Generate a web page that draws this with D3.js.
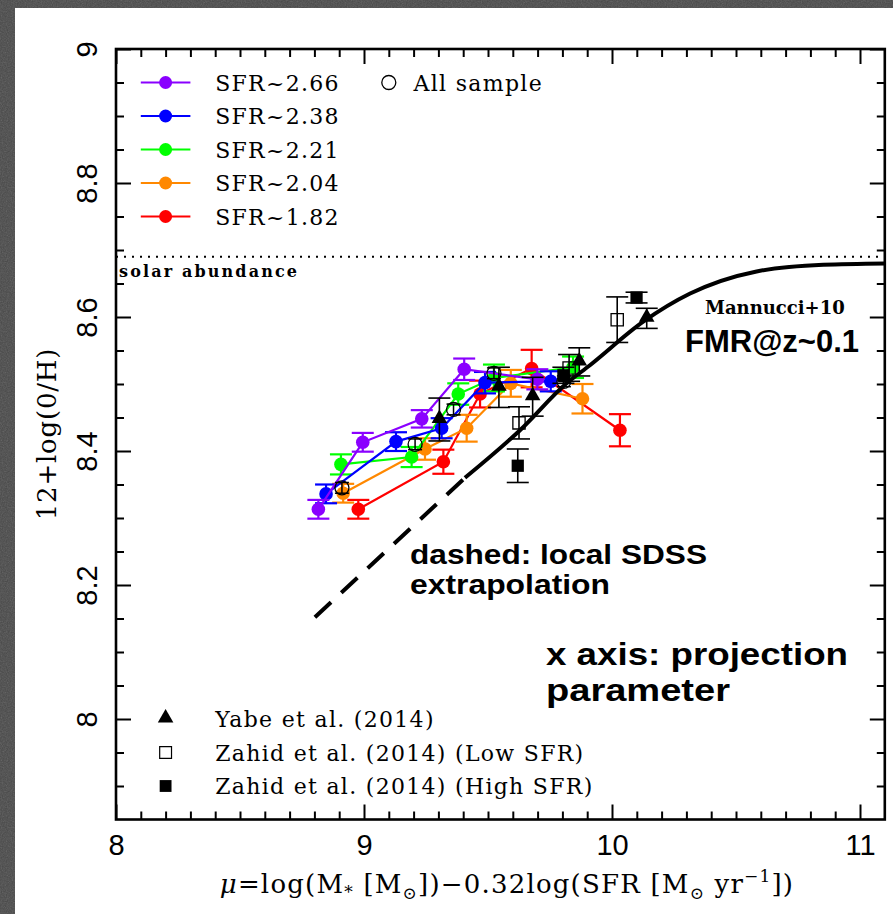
<!DOCTYPE html>
<html>
  <head>
    <meta charset="UTF-8" />
    <script src="https://d3js.org/d3.v7.min.js"></script>
    <style>
      body { margin: 0; background: #474747; }
    </style>
  </head>
  <body>
    <div id="my_dataviz"></div>

    <script>
      // ---- data ----
      const sfrLabels = ["SFR~2.66", "SFR~2.38", "SFR~2.21", "SFR~2.04", "SFR~1.82"];
      const sfrColors = ["#8a00ff", "#0000ff", "#00ff00", "#ff8800", "#ff0000"];

      const mu266 = [8.816, 8.995, 9.233, 9.404, 9.699];
      const oh266 = [8.313, 8.413, 8.448, 8.522, 8.507];
      const err266 = [0.014, 0.014, 0.013, 0.016, 0.015];

      const mu238 = [8.847, 9.129, 9.313, 9.488, 9.753];
      const oh238 = [8.336, 8.414, 8.434, 8.502, 8.504];
      const err238 = [0.014, 0.014, 0.015, 0.016, 0.015];

      const mu221 = [8.907, 9.192, 9.38, 9.524, 9.843];
      const oh221 = [8.38, 8.391, 8.485, 8.509, 8.525];
      const err221 = [0.015, 0.015, 0.016, 0.02, 0.016];

      const mu204 = [8.916, 9.246, 9.414, 9.592, 9.881];
      const oh204 = [8.337, 8.403, 8.434, 8.501, 8.478];
      const err204 = [0.014, 0.016, 0.02, 0.02, 0.022];

      const mu182 = [8.977, 9.32, 9.468, 9.676, 10.032];
      const oh182 = [8.313, 8.384, 8.485, 8.523, 8.431];
      const err182 = [0.014, 0.018, 0.02, 0.028, 0.024];

      const allMu = [8.911, 9.206, 9.361, 9.524, 9.806];
      const allOh = [8.345, 8.41, 8.462, 8.516, 8.504];
      const allErr = [0.008, 0.008, 0.008, 0.008, 0.008];

      const yabeMu = [9.304, 9.544, 9.68, 9.868, 10.14];
      const yabeOh = [8.447, 8.495, 8.481, 8.533, 8.598];
      const yabeErr = [0.032, 0.03, 0.029, 0.021, 0.015];

      const zLowMu = [9.625, 9.827, 10.021];
      const zLowOh = [8.442, 8.524, 8.596];
      const zLowErr = [0.024, 0.02, 0.034];

      const zHighMu = [9.62, 9.804, 10.099];
      const zHighOh = [8.378, 8.513, 8.629];
      const zHighErr = [0.025, 0.012, 0.008];

      // FMR curve (Mannucci+10), dashed extrapolation then solid
      const fmrDashMu = [8.802, 9.407];
      const fmrDashOh = [8.152, 8.36];
      const fmrMu = [9.407, 9.629, 9.817, 9.911, 10.126, 10.315, 10.583, 10.852, 11.105];
      const fmrOh = [8.36, 8.431, 8.501, 8.528, 8.593, 8.635, 8.668, 8.678, 8.68];

      const solarOh = 8.69;

      const xTicks = [8, 9, 10, 11];
      const yTicks = [8, 8.2, 8.4, 8.6, 8.8, 9];
      const yTickLabels = ["8", "8.2", "8.4", "8.6", "8.8", "9"];

      const refLabels = ["Yabe et al. (2014)", "Zahid et al. (2014) (Low SFR)", "Zahid et al. (2014) (High SFR)"];

      // ---- layout ----
      var width = 893, height = 914;

      var svg = d3
        .select("#my_dataviz")
        .append("svg")
        .attr("width", width)
        .attr("height", height);

      var defs = svg.append("defs");
      var noise = defs.append("filter").attr("id", "noise");
      noise.append("feTurbulence")
        .attr("type", "fractalNoise")
        .attr("baseFrequency", 0.8)
        .attr("numOctaves", 2)
        .attr("seed", 4);
      noise.append("feColorMatrix").attr("type", "saturate").attr("values", 0);

      svg.append("rect").attr("width", width).attr("height", height).attr("fill", "#474747");
      svg.append("rect").attr("width", width).attr("height", height)
        .attr("filter", "url(#noise)").attr("opacity", 0.25);
      // white page
      svg.append("rect").attr("x", 15).attr("y", 8).attr("width", width - 15).attr("height", height - 8).attr("fill", "#fff");

      var x = d3.scaleLinear().domain([8, 11.1]).range([116, 884.8]);
      var y = d3.scaleLinear().domain([7.85, 9]).range([819.5, 49]);

      defs.append("clipPath").attr("id", "plotclip")
        .append("rect")
        .attr("x", x(8)).attr("y", y(9))
        .attr("width", x(11.1) - x(8)).attr("height", y(7.85) - y(9));

      // ---- axes (ticks pointing inward) ----
      var minorX = d3.range(81, 111).map(d => d / 10).filter(d => d % 1 !== 0);
      var minorY = d3.range(158, 180).map(d => d / 20).filter(d => !yTicks.includes(d));

      function styleAxis(g) {
        g.select(".domain").remove();
        g.selectAll("line").attr("stroke", "#000").attr("stroke-width", 2);
      }

      svg.append("g").attr("transform", "translate(0," + y(7.85) + ")")
        .call(d3.axisBottom(x).tickValues(minorX).tickSize(-8).tickFormat(""))
        .call(styleAxis);
      var bottom = svg.append("g").attr("transform", "translate(0," + y(7.85) + ")")
        .call(d3.axisBottom(x).tickValues(xTicks).tickSize(-15).tickPadding(15).tickFormat(d3.format("d")))
        .call(styleAxis);
      bottom.selectAll("text")
        .attr("font-family", "Liberation Sans, Arial, sans-serif")
        .attr("font-size", 29)
        .attr("fill", "#000");

      svg.append("g").attr("transform", "translate(0," + y(9) + ")")
        .call(d3.axisTop(x).tickValues(minorX).tickSize(-8).tickFormat(""))
        .call(styleAxis);
      svg.append("g").attr("transform", "translate(0," + y(9) + ")")
        .call(d3.axisTop(x).tickValues(xTicks).tickSize(-15).tickFormat(""))
        .call(styleAxis);

      svg.append("g").attr("transform", "translate(" + x(8) + ",0)")
        .call(d3.axisLeft(y).tickValues(minorY).tickSize(-8).tickFormat(""))
        .call(styleAxis);
      var left = svg.append("g").attr("transform", "translate(" + x(8) + ",0)")
        .call(d3.axisLeft(y).tickValues(yTicks).tickSize(-15).tickFormat((d, i) => yTickLabels[i]))
        .call(styleAxis);
      left.selectAll("text")
        .attr("transform", "rotate(-90)")
        .attr("x", 0)
        .attr("y", -19)
        .attr("dy", 0)
        .attr("text-anchor", "middle")
        .attr("font-family", "Liberation Sans, Arial, sans-serif")
        .attr("font-size", 29)
        .attr("fill", "#000");

      svg.append("g").attr("transform", "translate(" + x(11.1) + ",0)")
        .call(d3.axisRight(y).tickValues(minorY).tickSize(-8).tickFormat(""))
        .call(styleAxis);
      svg.append("g").attr("transform", "translate(" + x(11.1) + ",0)")
        .call(d3.axisRight(y).tickValues(yTicks).tickSize(-15).tickFormat(""))
        .call(styleAxis);

      svg.append("rect")
        .attr("x", x(8)).attr("y", y(9))
        .attr("width", x(11.1) - x(8)).attr("height", y(7.85) - y(9))
        .attr("fill", "none").attr("stroke", "#000").attr("stroke-width", 2.6);

      // axis titles
      var serif = "DejaVu Serif, serif";
      var xt = svg.append("text")
        .attr("x", 507).attr("y", 893)
        .attr("text-anchor", "middle")
        .attr("font-family", serif).attr("font-size", 26)
        .attr("letter-spacing", 1.2);
      xt.append("tspan").attr("font-style", "italic").text("μ");
      xt.append("tspan").text("=log(M");
      xt.append("tspan").attr("font-size", 17).attr("dy", 5).text("*");
      xt.append("tspan").attr("dy", -5).text(" [M");
      xt.append("tspan").attr("font-size", 17).attr("dy", 6).text("⊙");
      xt.append("tspan").attr("dy", -6).text("])−0.32log(SFR [M");
      xt.append("tspan").attr("font-size", 17).attr("dy", 6).text("⊙");
      xt.append("tspan").attr("dy", -6).text(" yr");
      xt.append("tspan").attr("font-size", 17).attr("dy", -11).text("−1");
      xt.append("tspan").attr("dy", 11).text("])");

      svg.append("text")
        .attr("transform", "translate(56,434) rotate(-90)")
        .attr("text-anchor", "middle")
        .attr("font-family", serif).attr("font-size", 26)
        .attr("letter-spacing", 0.8)
        .text("12+log(0/H)");

      var plot = svg.append("g");

      // solar abundance
      plot.append("line")
        .attr("x1", x(8)).attr("x2", x(11.1))
        .attr("y1", y(solarOh)).attr("y2", y(solarOh))
        .attr("stroke", "#000").attr("stroke-width", 2)
        .attr("stroke-dasharray", "2,6");
      plot.append("text")
        .attr("x", 119).attr("y", 277)
        .attr("font-family", serif).attr("font-weight", "bold").attr("font-size", 16)
        .attr("textLength", 178).attr("lengthAdjust", "spacing")
        .text("solar abundance");

      // ---- error bars helper ----
      function errorBars(g, mu, oh, err, color, cap, sw) {
        var d = mu.map((m, i) => ({ m: m, o: oh[i], e: err[i] }));
        var eb = g.append("g").attr("stroke", color).attr("stroke-width", sw);
        eb.selectAll(".v").data(d).join("line")
          .attr("x1", d => x(d.m)).attr("x2", d => x(d.m))
          .attr("y1", d => y(d.o - d.e)).attr("y2", d => y(d.o + d.e));
        eb.selectAll(".t").data(d).join("line").attr("class", "t")
          .attr("x1", d => x(d.m) - cap).attr("x2", d => x(d.m) + cap)
          .attr("y1", d => y(d.o + d.e)).attr("y2", d => y(d.o + d.e));
        eb.selectAll(".b").data(d).join("line").attr("class", "b")
          .attr("x1", d => x(d.m) - cap).attr("x2", d => x(d.m) + cap)
          .attr("y1", d => y(d.o - d.e)).attr("y2", d => y(d.o - d.e));
        return d;
      }

      // ---- SFR bins ----
      var bins = [
        [mu266, oh266, err266],
        [mu238, oh238, err238],
        [mu221, oh221, err221],
        [mu204, oh204, err204],
        [mu182, oh182, err182]
      ];
      var line = d3.line().x(d => x(d.m)).y(d => y(d.o));

      [4, 3, 2, 1, 0].forEach(function (k) {
        var g = plot.append("g");
        var d = errorBars(g, bins[k][0], bins[k][1], bins[k][2], sfrColors[k], 11, 2.2);
        g.append("path").attr("d", line(d))
          .attr("fill", "none").attr("stroke", sfrColors[k]).attr("stroke-width", 2.2);
        g.selectAll("circle").data(d).join("circle")
          .attr("cx", d => x(d.m)).attr("cy", d => y(d.o)).attr("r", 6.8)
          .attr("fill", sfrColors[k]);
      });

      // all sample
      var ga = plot.append("g");
      var da = errorBars(ga, allMu, allOh, allErr, "#000", 7, 1.5);
      ga.selectAll("circle").data(da).join("circle")
        .attr("cx", d => x(d.m)).attr("cy", d => y(d.o)).attr("r", 7)
        .attr("fill", "none").attr("stroke", "#000").attr("stroke-width", 1.3);

      // literature points
      var tri = d3.symbol().type(d3.symbolTriangle).size(105);
      var sq = d3.symbol().type(d3.symbolSquare).size(150);

      var gz = plot.append("g");
      var dz = errorBars(gz, zLowMu, zLowOh, zLowErr, "#000", 11, 1.6);
      gz.selectAll("path.m").data(dz).join("path").attr("class", "m")
        .attr("d", sq).attr("transform", d => "translate(" + x(d.m) + "," + y(d.o) + ")")
        .attr("fill", "none").attr("stroke", "#000").attr("stroke-width", 1.3);

      var gh = plot.append("g");
      var dh = errorBars(gh, zHighMu, zHighOh, zHighErr, "#000", 11, 1.6);
      gh.selectAll("path.m").data(dh).join("path").attr("class", "m")
        .attr("d", sq).attr("transform", d => "translate(" + x(d.m) + "," + y(d.o) + ")")
        .attr("fill", "#000");

      var gy = plot.append("g");
      var dy = errorBars(gy, yabeMu, yabeOh, yabeErr, "#000", 11, 1.6);
      gy.selectAll("path.m").data(dy).join("path").attr("class", "m")
        .attr("d", tri).attr("transform", d => "translate(" + x(d.m) + "," + (y(d.o) - 1) + ")")
        .attr("fill", "#000");

      // FMR curve
      var fmrLine = d3.line().x(d => x(d[0])).y(d => y(d[1])).curve(d3.curveMonotoneX);
      var curveG = plot.append("g").attr("clip-path", "url(#plotclip)");
      curveG.append("path")
        .attr("d", fmrLine(fmrDashMu.map((m, i) => [m, fmrDashOh[i]])))
        .attr("fill", "none").attr("stroke", "#000").attr("stroke-width", 4)
        .attr("stroke-dasharray", "22,14");
      curveG.append("path")
        .attr("d", fmrLine(fmrMu.map((m, i) => [m, fmrOh[i]])))
        .attr("fill", "none").attr("stroke", "#000").attr("stroke-width", 4);

      // ---- legends ----
      var leg = svg.append("g").attr("font-family", serif).attr("font-size", 22)
        .attr("letter-spacing", 1.3);
      sfrLabels.forEach(function (lab, i) {
        var ly = y(8.95 - i * 0.05);
        leg.append("line").attr("x1", x(8.1)).attr("x2", x(8.3))
          .attr("y1", ly).attr("y2", ly)
          .attr("stroke", sfrColors[i]).attr("stroke-width", 2.2);
        leg.append("circle").attr("cx", x(8.2)).attr("cy", ly).attr("r", 6.5)
          .attr("fill", sfrColors[i]);
        leg.append("text").attr("x", x(8.4)).attr("y", ly + 8).text(lab);
      });
      leg.append("circle").attr("cx", x(9.1)).attr("cy", y(8.95)).attr("r", 7)
        .attr("fill", "none").attr("stroke", "#000").attr("stroke-width", 1.3);
      leg.append("text").attr("x", x(9.2)).attr("y", y(8.95) + 8).text("All sample");

      var refSyms = [
        { d: tri, fill: "#000", stroke: "none" },
        { d: d3.symbol().type(d3.symbolSquare).size(140), fill: "none", stroke: "#000" },
        { d: d3.symbol().type(d3.symbolSquare).size(140), fill: "#000", stroke: "none" }
      ];
      refLabels.forEach(function (lab, i) {
        var ly = y(8.0 - i * 0.05);
        leg.append("path").attr("d", refSyms[i].d())
          .attr("transform", "translate(" + x(8.2) + "," + (ly - (i === 0 ? 1 : 0)) + ")")
          .attr("fill", refSyms[i].fill).attr("stroke", refSyms[i].stroke).attr("stroke-width", 1.2);
        leg.append("text").attr("x", x(8.4)).attr("y", ly + 8).text(lab);
      });

      // ---- annotations ----
      var sans = "Liberation Sans, Arial, sans-serif";
      svg.append("text").attr("x", 705).attr("y", 314)
        .attr("font-family", serif).attr("font-weight", "bold").attr("font-size", 18)
        .text("Mannucci+10");
      svg.append("text").attr("x", 685).attr("y", 352)
        .attr("font-family", sans).attr("font-weight", "bold").attr("font-size", 31)
        .text("FMR@z~0.1");

      var dashedNote = svg.append("text")
        .attr("font-family", sans).attr("font-weight", "bold").attr("font-size", 27);
      dashedNote.append("tspan").attr("x", 410).attr("y", 564)
        .attr("textLength", 297).attr("lengthAdjust", "spacingAndGlyphs")
        .text("dashed: local SDSS");
      dashedNote.append("tspan").attr("x", 410).attr("y", 594)
        .attr("textLength", 200).attr("lengthAdjust", "spacingAndGlyphs")
        .text("extrapolation");

      var projNote = svg.append("text")
        .attr("font-family", sans).attr("font-weight", "bold").attr("font-size", 32);
      projNote.append("tspan").attr("x", 546).attr("y", 665)
        .attr("textLength", 302).attr("lengthAdjust", "spacingAndGlyphs")
        .text("x axis: projection");
      projNote.append("tspan").attr("x", 546).attr("y", 701)
        .attr("textLength", 184).attr("lengthAdjust", "spacingAndGlyphs")
        .text("parameter");
    </script>
  </body>
</html>
